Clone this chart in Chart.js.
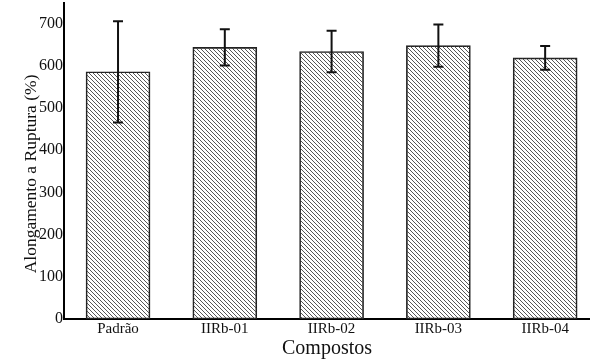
<!DOCTYPE html>
<html>
<head>
<meta charset="utf-8">
<script src="https://cdn.jsdelivr.net/npm/chart.js@4"></script>
<style>
  html, body { margin: 0; padding: 0; background: #fff; }
  #wrap { width: 590px; height: 362px; }
</style>
</head>
<body>
<div id="wrap"><canvas id="barChart"></canvas></div>
<script>
'use strict';

const compostos = ['Padrão', 'IIRb-01', 'IIRb-02', 'IIRb-03', 'IIRb-04'];
const alongamento = [586, 644, 634, 648, 619];
const desvio = [120, 43, 49, 50, 28];
const yTicks = [0, 100, 200, 300, 400, 500, 600, 700];

// diagonal hatch fill
function hatch() {
    const c = document.createElement('canvas');
    c.width = 4; c.height = 4;
    const g = c.getContext('2d');
    g.strokeStyle = '#444';
    g.lineWidth = 0.9;
    g.beginPath();
    g.moveTo(0, 0); g.lineTo(4, 4);
    g.moveTo(-1, 3); g.lineTo(1, 5);
    g.moveTo(3, -1); g.lineTo(5, 1);
    g.stroke();
    return g.createPattern(c, 'repeat');
}

const errorBars = {
    id: 'errorBars',
    afterDatasetsDraw(chart) {
        const ctx = chart.ctx;
        const yScale = chart.scales.y;
        const meta = chart.getDatasetMeta(0);
        ctx.save();
        ctx.strokeStyle = '#111';
        ctx.lineWidth = 2;
        meta.data.forEach((bar, i) => {
            const top = yScale.getPixelForValue(alongamento[i] + desvio[i]);
            const bot = yScale.getPixelForValue(alongamento[i] - desvio[i]);
            ctx.beginPath();
            ctx.moveTo(bar.x, top); ctx.lineTo(bar.x, bot);
            ctx.moveTo(bar.x - 5, top); ctx.lineTo(bar.x + 5, top);
            ctx.moveTo(bar.x - 5, bot); ctx.lineTo(bar.x + 5, bot);
            ctx.stroke();
        });
        ctx.restore();
    }
};

const serif = 'Liberation Serif, Times New Roman, serif';

const ctx = document.getElementById('barChart').getContext('2d');
const barChart = new Chart(ctx, {
    type: 'bar',
    data: {
    datasets: [{
        data: alongamento.map((v, i) => ({ x: i, y: v })),
        backgroundColor: hatch(),
        borderColor: '#222',
        borderWidth: 1,
        borderSkipped: false,
        barThickness: 64
    }]
    },
    plugins: [errorBars],
    options: {
    responsive: true,
    maintainAspectRatio: false,
    animation: false,
    layout: { padding: { top: 2, right: 0, left: 0, bottom: 0 } },
    plugins: {
        legend: { display: false },
        tooltip: { enabled: false }
    },
    scales: {
        x: {
        type: 'linear',
        offset: false,
        min: -0.506,
        max: 4.42,
        afterBuildTicks: s => { s.ticks = compostos.map((_, i) => ({ value: i })); },
        afterFit: s => { s.height = 43; },
        grid: { display: false, drawTicks: false, offset: false },
        border: { color: '#000', width: 2 },
        ticks: {
            padding: 1,
            color: '#111',
            font: { family: serif, size: 15 },
            callback: v => compostos[v] ?? ''
        },
        title: {
            display: true,
            text: 'Compostos',
            color: '#111',
            font: { family: serif, size: 20 },
            padding: { top: 0, bottom: 1 }
        }
        },
        y: {
        min: 0,
        max: 750,
        afterBuildTicks: s => { s.ticks = yTicks.map(v => ({ value: v })); },
        afterFit: s => { s.width = 64; },
        grid: { display: false, drawTicks: false },
        border: { color: '#000', width: 2 },
        ticks: {
            padding: 1,
            color: '#111',
            font: { family: serif, size: 16, lineHeight: 0.2 }
        },
        title: {
            display: true,
            text: 'Alongamento a Ruptura (%)      ',
            color: '#111',
            font: { family: serif, size: 17.5 },
            padding: { top: 21, bottom: 0 }
        }
        }
    }
    }
});
</script>
</body>
</html>
